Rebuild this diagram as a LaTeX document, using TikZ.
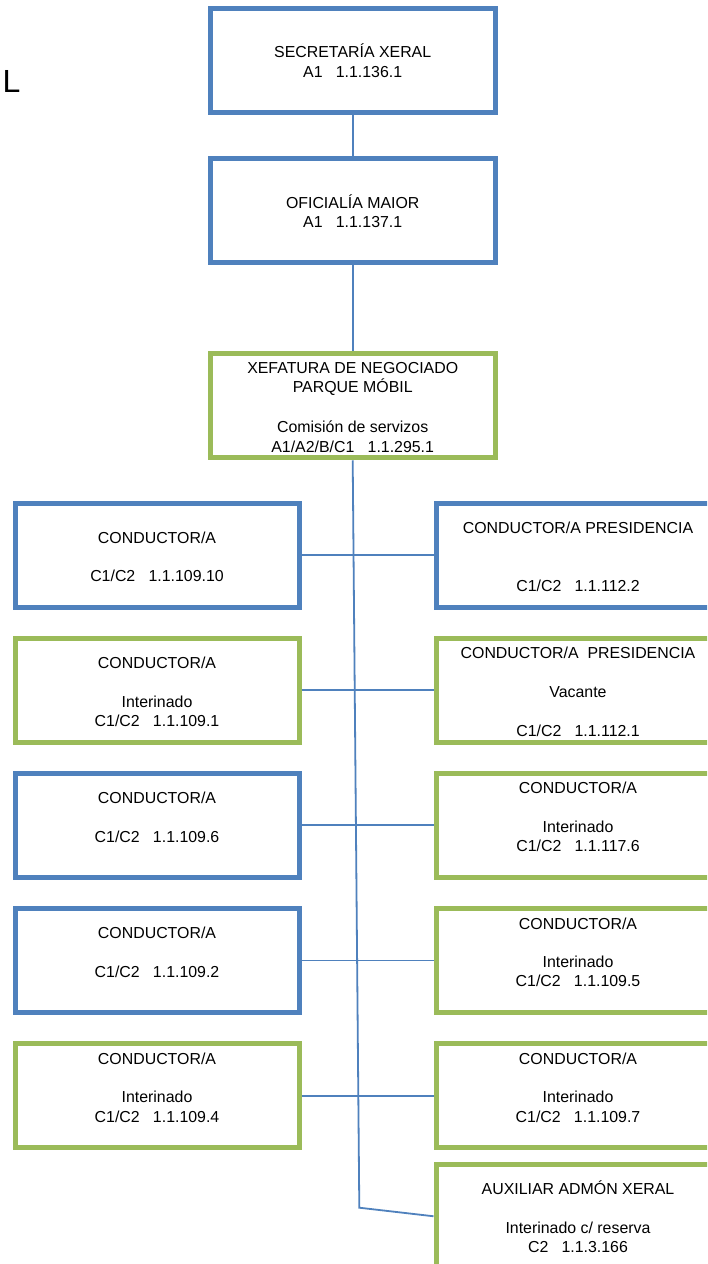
\documentclass[tikz,border=0pt]{standalone}
\usepackage{fontspec}
\setmainfont{Liberation Sans}
\definecolor{boxblue}{HTML}{4F81BD}
\definecolor{boxgreen}{HTML}{9BBB59}
\newcommand{\ls}{\rule[-2.4pt]{0pt}{19.3pt}}
\tikzset{
  orgbox/.style={draw, line width=5pt, minimum width=285pt, minimum height=104.5pt,
    inner sep=0pt, align=center, font=\fontsize{15.9}{19.3}\selectfont},
  bluebox/.style={orgbox, draw=boxblue},
  greenbox/.style={orgbox, draw=boxgreen},
  sidebox/.style={minimum width=284pt},
  link/.style={draw=boxblue, line width=1.8pt},
}
\begin{document}
\begin{tikzpicture}[x=1pt,y=-1pt]
\useasboundingbox (0,0) rectangle (707,1264);
\fill[white] (0,0) rectangle (707,1264);
\clip (0,0) rectangle (707,1264);

\node[anchor=base west, inner sep=0pt, font=\fontsize{32}{38}\selectfont] (Ltxt) at (2.3,92.7) {L};

\node[bluebox] (S) at (352.7,60.25) {\ls SECRETARÍA XERAL\\\ls A1\ \ \ 1.1.136.1};
\node[bluebox] (O) at (352.7,210.5) {\ls OFICIALÍA MAIOR\\\ls A1\ \ \ 1.1.137.1};
\node[greenbox] (X) at (352.7,405.5) {\ls XEFATURA DE NEGOCIADO\\\ls PARQUE MÓBIL\\\ls\\\ls Comisión de servizos\\\ls A1/A2/B/C1\ \ \ 1.1.295.1};

\node[bluebox, sidebox] (L1) at (157,555.25) {\ls CONDUCTOR/A\\\ls\\\ls C1/C2\ \ \ 1.1.109.10};
\node[bluebox, sidebox] (R1) at (578,555.25) {\ls CONDUCTOR/A PRESIDENCIA\\\ls\\\ls\\\ls C1/C2\ \ \ 1.1.112.2};

\node[greenbox, sidebox] (L2) at (157,690.25) {\ls CONDUCTOR/A\\\ls\\\ls Interinado\\\ls C1/C2\ \ \ 1.1.109.1};
\node[greenbox, sidebox] (R2) at (578,690.25) {\ls CONDUCTOR/A\ \ PRESIDENCIA\\\ls\\\ls Vacante\\\ls\\\ls C1/C2\ \ \ 1.1.112.1};

\node[bluebox, sidebox] (L3) at (157,825.25) {\ls CONDUCTOR/A\\\ls\\\ls C1/C2\ \ \ 1.1.109.6\\\ls};
\node[greenbox, sidebox] (R3) at (578,825.25) {\ls CONDUCTOR/A\\\ls\\\ls Interinado\\\ls C1/C2\ \ \ 1.1.117.6\\\ls};

\node[bluebox, sidebox] (L4) at (157,960.4) {\ls CONDUCTOR/A\\\ls\\\ls C1/C2\ \ \ 1.1.109.2\\\ls};
\node[greenbox, sidebox] (R4) at (578,960.4) {\ls CONDUCTOR/A\\\ls\\\ls Interinado\\\ls C1/C2\ \ \ 1.1.109.5\\\ls};

\node[greenbox, sidebox] (L5) at (157,1095.6) {\ls CONDUCTOR/A\\\ls\\\ls Interinado\\\ls C1/C2\ \ \ 1.1.109.4\\\ls};
\node[greenbox, sidebox] (R5) at (578,1095.6) {\ls CONDUCTOR/A\\\ls\\\ls Interinado\\\ls C1/C2\ \ \ 1.1.109.7\\\ls};

\node[greenbox, sidebox] (R6) at (578,1216.25) {\ls AUXILIAR ADMÓN XERAL\\\ls\\\ls Interinado c/ reserva\\\ls C2\ \ \ 1.1.3.166};

\coordinate (bend) at (359.3,1207.7);

\draw[link] (S.south) -- (O.north);
\draw[link] (O.south) -- (X.north);
\draw[link] (X.south) -- (bend) -- (R6.west);
\draw[link] (L1.east) -- (R1.west);
\draw[link] (L2.east) -- (R2.west);
\draw[link] (L3.east) -- (R3.west);
\draw[link] (L4.east) -- (R4.west);
\draw[link] (L5.east) -- (R5.west);
\end{tikzpicture}
\end{document}
